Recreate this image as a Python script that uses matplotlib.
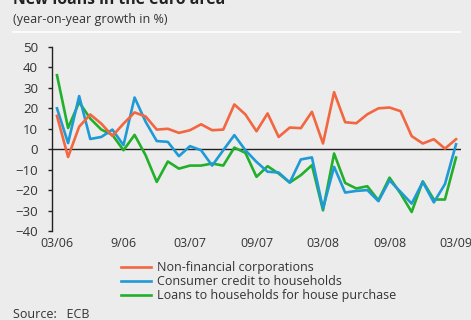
import matplotlib.pyplot as plt
import numpy as np

# monthly observations, 03/06 .. 03/09
tick_pos = [0, 6, 12, 18, 24, 30, 36]
tick_labels = ['03/06', '9/06', '03/07', '09/07', '03/08', '09/08', '03/09']

nfc = [16.3, -3.8, 11.0, 17.0, 12.5, 6.5, 12.5, 18.0, 16.0, 9.6, 10.0, 8.0, 9.3,
       12.2, 9.3, 9.6, 21.9, 17.0, 8.8, 17.5, 6.0, 10.6, 10.3, 18.3, 2.8, 27.9,
       13.2, 12.7, 17.1, 20.0, 20.4, 18.6, 6.4, 2.8, 4.9, 0.3, 4.9]
consumer = [20.0, 3.0, 26.0, 5.0, 6.0, 9.6, 2.0, 25.3, 13.4, 4.0, 3.6, -3.4, 1.5,
            -0.5, -8.0, -0.5, 6.9, -0.5, -6.2, -11.0, -11.4, -16.3, -5.0, -4.0, -29.0,
            -8.6, -21.2, -20.4, -20.0, -25.4, -15.2, -20.9, -26.6, -16.0, -26.0, -17.1, 2.4]
house = [36.2, 10.4, 23.0, 15.0, 9.6, 7.0, -0.5, 7.0, -3.0, -16.0, -6.0, -9.5, -8.0,
         -8.0, -7.0, -8.0, 0.8, -1.8, -13.5, -8.3, -11.9, -16.3, -12.7, -7.8, -29.9,
         -2.1, -16.5, -19.2, -18.1, -25.0, -13.9, -21.7, -30.7, -15.7, -24.6, -24.6, -4.1]
labels = ['Non-financial corporations', 'Consumer credit to households',
          'Loans to households for house purchase']
colors = ['#f26640', '#1f9ad6', '#22b02a']

plt.rcParams['font.family'] = ['Open Sans', 'DejaVu Sans']
bg = '#ececec'
fig = plt.figure(figsize=(4.71, 3.2), dpi=100, facecolor=bg)
W, H = 471, 320
ax = fig.add_axes([52 / W, 1 - 231 / H, (461 - 52) / W, (231 - 47) / H])
ax.set_facecolor(bg)

x = np.arange(len(nfc))
l3, = ax.plot(x, house, color=colors[2], lw=1.9)
l2, = ax.plot(x, consumer, color=colors[1], lw=1.9)
l1, = ax.plot(x, nfc, color=colors[0], lw=1.9)
ax.axhline(0, color='#222222', lw=1.0, zorder=0.5)

ax.set_xlim(-0.45, 36.45)
ax.set_ylim(-40, 50)
ax.set_yticks(range(-40, 51, 10))
ax.set_xticks(tick_pos)
ax.set_xticklabels(tick_labels)
for s in ['top', 'right', 'bottom']:
    ax.spines[s].set_visible(False)
ax.spines['left'].set_color('#222222')
ax.spines['left'].set_linewidth(1.0)
ax.tick_params(axis='y', direction='out', length=3, width=1.0, color='#222222',
               labelsize=9.5, labelcolor='#333333', pad=7)
ax.tick_params(axis='x', length=0, labelsize=9, labelcolor='#333333', pad=4)

fig.text(13 / W, 1 - 3.5 / H, 'New loans in the euro area', fontsize=11.3,
         fontweight='bold', color='#222222', va='baseline')
fig.text(13 / W, 1 - 20 / H, '(year-on-year growth in %)', fontsize=9,
         color='#333333', va='center')
fig.add_artist(plt.Line2D([13 / W, 460 / W], [1 - 31.5 / H, 1 - 31.5 / H],
                          color='white', lw=1.2))
fig.text(13 / W, 1 - 315 / H, 'Source:   ECB', fontsize=9, color='#333333',
         va='center')

fig.legend([l1, l2, l3], labels, loc='upper left',
           bbox_to_anchor=(121 / W, 1 - 261 / H), frameon=False,
           fontsize=9, handlelength=2.4, handletextpad=0.45,
           labelspacing=0.1, borderpad=0, borderaxespad=0,
           labelcolor='#333333')

fig.savefig('out.png', dpi=100, facecolor=bg)
